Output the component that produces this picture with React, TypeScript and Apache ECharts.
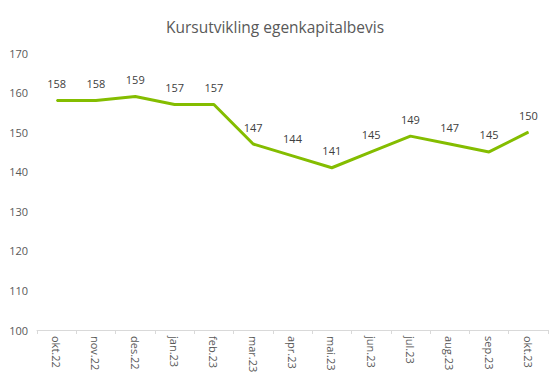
import React, { useEffect, useRef } from "react";
import * as echarts from "echarts";

const categories = ["okt.22", "nov.22", "des.22", "jan.23", "feb.23", "mar.23", "apr.23", "mai.23", "jun.23", "jul.23", "aug.23", "sep.23", "okt.23"];
const values = [158, 158, 159, 157, 157, 147, 144, 141, 145, 149, 147, 145, 150];
const title = "Kursutvikling egenkapitalbevis";

export default function App() {
  const ref = useRef<HTMLDivElement>(null);
  useEffect(() => {
    const chart = echarts.init(ref.current!, null, { renderer: "svg" });
    chart.setOption({
      animation: false,
      backgroundColor: "#ffffff",
      title: {
        text: title,
        left: "center",
        top: 14,
        textStyle: { fontFamily: "Open Sans", fontSize: 15.5, fontWeight: "normal", color: "#595959" },
      },
      grid: { left: 37, right: 2, top: 53, bottom: 57, containLabel: false },
      xAxis: {
        type: "category",
        data: categories,
        boundaryGap: true,
        axisLine: { lineStyle: { color: "#d9d9d9" } },
        axisTick: { show: true, length: 4, lineStyle: { color: "#d9d9d9" } },
        axisLabel: { rotate: -90, color: "#595959", fontFamily: "Open Sans", fontSize: 11, margin: 6 },
      },
      yAxis: {
        type: "value",
        min: 100,
        max: 170,
        interval: 10,
        axisLine: { show: false },
        axisTick: { show: false },
        splitLine: { show: false },
        axisLabel: { color: "#595959", fontFamily: "Open Sans", fontSize: 11, margin: 9 },
      },
      series: [
        {
          type: "line",
          data: values,
          symbol: "circle",
          symbolSize: 1,
          showSymbol: true,
          lineStyle: { color: "#84BD00", width: 3 },
          itemStyle: { color: "#84BD00" },
          label: { show: true, position: "top", distance: 11, color: "#404040", fontFamily: "Open Sans", fontSize: 11 },
        },
      ],
    });
    return () => chart.dispose();
  }, []);
  return <div ref={ref} style={{ width: 550, height: 387, position: "absolute", left: 0, top: 0 }} />;
}
